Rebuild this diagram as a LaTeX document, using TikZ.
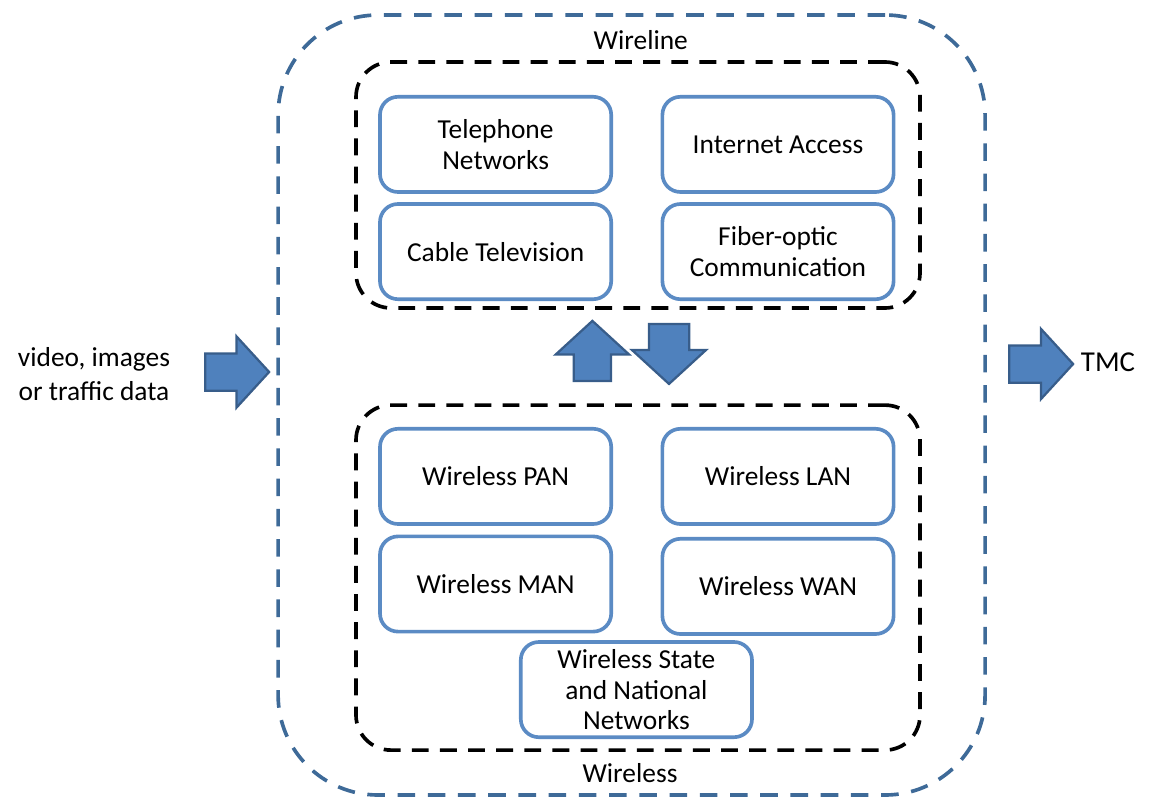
\documentclass[tikz,border=0pt]{standalone}
\usepackage{fontspec}
\setmainfont{Carlito}
\usetikzlibrary{shapes.arrows}
\definecolor{boxblue}{RGB}{91,139,196}
\definecolor{dashblue}{RGB}{62,106,152}
\definecolor{arrowfill}{RGB}{79,129,189}
\definecolor{arrowline}{RGB}{56,93,138}

\begin{document}
\begin{tikzpicture}[
    font=\fontsize{19.5}{22}\selectfont,
    netbox/.style={draw=boxblue, line width=2.6pt, rounded corners=0.45cm, fill=white,
        minimum width=5.78cm, minimum height=2.38cm, align=center, inner sep=0pt},
    groupbox/.style={draw=black, line width=2.6pt, dash pattern=on 12pt off 8pt,
        rounded corners=0.875cm, minimum width=14.1cm, inner sep=0pt},
    outerbox/.style={draw=dashblue, line width=2.6pt, dash pattern=on 12.5pt off 9pt,
        rounded corners=2.5cm, minimum width=17.675cm, minimum height=19.5cm, inner sep=0pt},
    blockarrow/.style={single arrow, draw=arrowline, fill=arrowfill, line width=1.6pt,
        inner xsep=0pt, single arrow tip angle=95, anchor=tail}
]
    \useasboundingbox (0, 0) rectangle (28.725, -19.975);

    % frames: outer, wireline group, wireless group
    \node[outerbox] (network) at (15.79, -10.125) {};
    \node[groupbox, minimum height=6.15cm] (wireline) at (15.95, -4.625) {};
    \node[groupbox, minimum height=8.625cm] (wireless) at (15.95, -14.44) {};
    \node (wirelinelabel) at (16.02, -1.0) {Wireline};
    \node (wirelesslabel) at (15.75, -19.33) {Wireless};

    % nodes: wireline networks
    \node[netbox] (tel) at (12.39, -3.61) {Telephone\\Networks};
    \node[netbox] (inet) at (19.45, -3.61) {Internet Access};
    \node[netbox] (cable) at (12.39, -6.29) {Cable Television};
    \node[netbox] (fiber) at (19.45, -6.29) {Fiber-optic\\Communication};

    % nodes: wireless networks
    \node[netbox] (pan) at (12.39, -11.91) {Wireless PAN};
    \node[netbox] (lan) at (19.45, -11.91) {Wireless LAN};
    \node[netbox] (man) at (12.39, -14.6) {Wireless MAN};
    \node[netbox] (wan) at (19.45, -14.66) {Wireless WAN};
    \node[netbox] (state) at (15.91, -17.24) {Wireless State\\and National\\Networks};

    % arrows: in, out, up, down
    \node[blockarrow, minimum height=1.6cm, inner ysep=0.4375cm, single arrow head extend=0.425cm] (inarrow) at (5.1, -9.3) {};
    \node[blockarrow, minimum height=1.6cm, inner ysep=0.4375cm, single arrow head extend=0.41cm] (outarrow) at (25.2, -9.1) {};
    \node[blockarrow, rotate=90, minimum height=1.5cm, inner ysep=0.4375cm, single arrow head extend=0.45cm] (uparrow) at (14.81, -9.55) {};
    \node[blockarrow, rotate=-90, minimum height=1.5cm, inner ysep=0.475cm, single arrow head extend=0.425cm] (downarrow) at (16.725, -8.07) {};

    % source and sink
    \node[align=center, font=\fontsize{19.5}{24}\selectfont] (source) at (2.35, -9.35) {video, images\\or traffic data};
    \node[anchor=west, font=\fontsize{20.5}{24}\selectfont] (tmc) at (26.9, -9.05) {TMC};
\end{tikzpicture}
\end{document}
